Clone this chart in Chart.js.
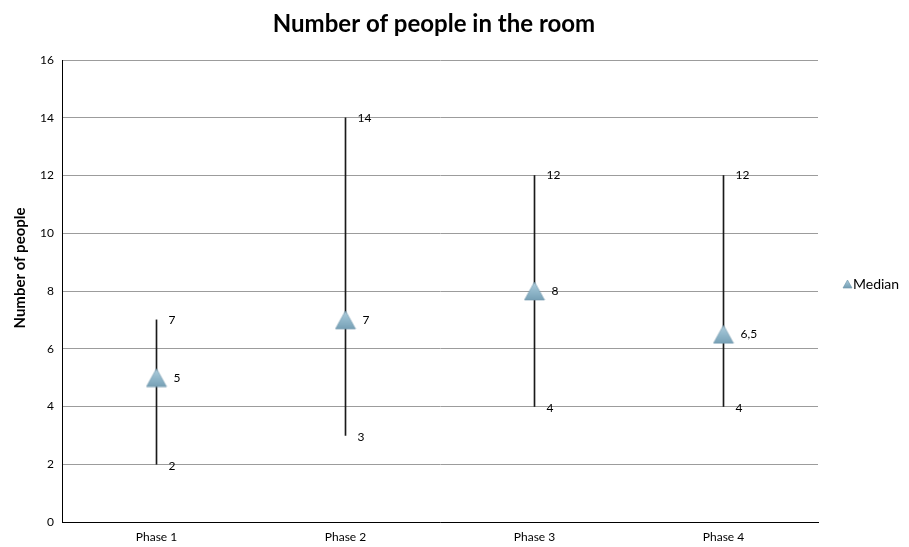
<!DOCTYPE html>
<html>
<head>
<meta charset="utf-8">
<title>Number of people in the room</title>
<script src="https://cdn.jsdelivr.net/npm/chart.js@4.4.1/dist/chart.umd.min.js"></script>
<style>
  html, body { margin: 0; padding: 0; background: #fff; }
  canvas { display: block; }
</style>
</head>
<body>
<canvas id="chart" width="909" height="547"></canvas>
<script>
// Phases on the x axis
const categories = ['Phase 1', 'Phase 2', 'Phase 3', 'Phase 4'];
// Lowest, highest and median head count per phase
const lowValues = [2, 3, 4, 4];
const highValues = [7, 14, 12, 12];
const medianValues = [5, 7, 8, 6.5];
// Y axis range
const yTicks = [0, 2, 4, 6, 8, 10, 12, 14, 16];

const FONT = 'Lato, "Open Sans", "Liberation Sans", sans-serif';

// Shaded triangle marker, centred on its bounding box
function makeTriangle(w, h) {
  const c = document.createElement('canvas');
  c.width = w + 2; c.height = h + 2;
  const g = c.getContext('2d');
  const grad = g.createLinearGradient(0, 0, 0, h);
  grad.addColorStop(0, '#b4d1df');
  grad.addColorStop(0.6, '#8fb6c9');
  grad.addColorStop(1, '#7aa3b8');
  g.beginPath();
  g.moveTo(1 + w / 2, 1);
  g.lineTo(1 + w, 1 + h);
  g.lineTo(1, 1 + h);
  g.closePath();
  g.fillStyle = grad;
  g.fill();
  g.strokeStyle = 'rgba(110,150,170,0.8)';
  g.lineWidth = 0.8;
  g.stroke();
  return c;
}
const markerImg = makeTriangle(20, 18);
const legendImg = makeTriangle(9, 8);

const fmt = v => String(v).replace('.', ',');

// Value labels beside each range end and median, plus title, axis title and legend
const annotations = {
  id: 'annotations',
  afterDatasetsDraw(chart) {
    const ctx = chart.ctx;
    const xs = chart.scales.x, ys = chart.scales.y;
    ctx.save();
    ctx.fillStyle = '#000';
    ctx.font = '12px ' + FONT;
    ctx.textAlign = 'left';
    ctx.textBaseline = 'middle';
    categories.forEach((c, i) => {
      const x = xs.getPixelForValue(i);
      ctx.fillText(fmt(highValues[i]), x + 12, ys.getPixelForValue(highValues[i]));
      ctx.fillText(fmt(lowValues[i]), x + 12, ys.getPixelForValue(lowValues[i]) + 2);
      ctx.fillText(fmt(medianValues[i]), x + 17, ys.getPixelForValue(medianValues[i]));
    });
    ctx.restore();
  },
  afterDraw(chart) {
    const ctx = chart.ctx;
    ctx.save();
    ctx.fillStyle = '#000';
    // Title
    ctx.font = 'bold 24px ' + FONT;
    ctx.textAlign = 'center';
    ctx.textBaseline = 'middle';
    ctx.fillText('Number of people in the room', 434, 24);
    // Y axis title
    ctx.save();
    ctx.translate(20, 268);
    ctx.rotate(-Math.PI / 2);
    ctx.font = 'bold 15px ' + FONT;
    ctx.fillText('Number of people', 0, 0);
    ctx.restore();
    // Legend
    ctx.drawImage(legendImg, 842, 279);
    ctx.font = '14px ' + FONT;
    ctx.textAlign = 'left';
    ctx.fillText('Median', 853, 284);
    ctx.restore();
  }
};

new Chart(document.getElementById('chart'), {
  type: 'bar',
  data: {
    labels: categories,
    datasets: [
      {
        label: 'Median',
        type: 'line',
        data: medianValues,
        showLine: false,
        pointStyle: markerImg,
        pointRadius: 10,
        order: 0
      },
      {
        label: 'Range',
        data: categories.map((c, i) => [lowValues[i], highValues[i]]),
        backgroundColor: '#1a1a1a',
        borderWidth: 0,
        barThickness: 1,
        order: 1
      }
    ]
  },
  options: {
    responsive: false,
    animation: false,
    events: [],
    layout: { padding: { top: 60, right: 91, left: 0, bottom: 0 } },
    plugins: {
      legend: { display: false },
      title: { display: false },
      tooltip: { enabled: false }
    },
    scales: {
      x: {
        grid: { display: false, drawTicks: false },
        border: { color: '#000', width: 1 },
        ticks: { color: '#000', font: { family: FONT, size: 12 }, padding: 8 },
        afterFit(s) { s.height = 25; }
      },
      y: {
        min: yTicks[0],
        max: yTicks[yTicks.length - 1],
        afterBuildTicks(s) { s.ticks = yTicks.map(v => ({ value: v })); },
        grid: { color: '#9c9c9c', drawTicks: false },
        border: { color: '#000', width: 1 },
        ticks: { color: '#000', font: { family: FONT, size: 12 }, padding: 8 },
        afterFit(s) { s.width = 62; }
      }
    }
  },
  plugins: [annotations]
});
</script>
</body>
</html>
